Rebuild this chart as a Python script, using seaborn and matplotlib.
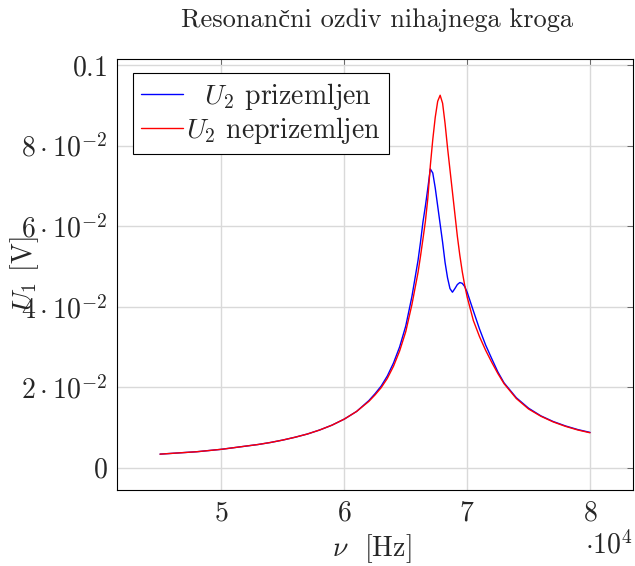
import numpy as np
import pandas as pd
import matplotlib
matplotlib.use("Agg")
import matplotlib.pyplot as plt
import seaborn as sns

# frequency grid [Hz] and measured amplitudes [V]
freq = [45000, 46000, 47000, 48000, 49000, 50000, 51000, 52000, 53000, 54000,
        55000, 56000, 57000, 58000, 59000, 60000, 61000, 62000, 62500, 63000,
        63500, 64000, 64500, 65000, 65500, 66000, 66200, 66400, 66600, 66800,
        67000, 67200, 67400, 67600, 67800, 68000, 68200, 68400, 68600, 68800,
        69000, 69200, 69400, 69600, 69800, 70000, 70500, 71000, 71500, 72000,
        72500, 73000, 74000, 75000, 76000, 77000, 78000, 79000, 80000]

u_prizemljen = [0.0034, 0.0036, 0.0038, 0.0040, 0.0043, 0.0046, 0.0050, 0.0054, 0.0058, 0.0063,
                0.0069, 0.0076, 0.0084, 0.0094, 0.0106, 0.0121, 0.0140, 0.0167, 0.0184, 0.0203,
                0.0228, 0.0260, 0.0300, 0.0352, 0.0425, 0.0515, 0.0560, 0.0610, 0.0650, 0.0695,
                0.0742, 0.0732, 0.0695, 0.0650, 0.0605, 0.0560, 0.0510, 0.0472, 0.0445, 0.0436,
                0.0445, 0.0455, 0.0460, 0.0458, 0.0450, 0.0436, 0.0390, 0.0345, 0.0305, 0.0271,
                0.0238, 0.0211, 0.0174, 0.0148, 0.0129, 0.0115, 0.0104, 0.0095, 0.0088]

u_neprizemljen = [0.0034, 0.0036, 0.0038, 0.0040, 0.0043, 0.0046, 0.0050, 0.0054, 0.0058, 0.0063,
                  0.0069, 0.0076, 0.0084, 0.0094, 0.0106, 0.0121, 0.0140, 0.0165, 0.0181, 0.0199,
                  0.0222, 0.0252, 0.0290, 0.0338, 0.0405, 0.0485, 0.0525, 0.0568, 0.0612, 0.0670,
                  0.0750, 0.0815, 0.0870, 0.0910, 0.0925, 0.0905, 0.0855, 0.0795, 0.0740, 0.0685,
                  0.0630, 0.0575, 0.0528, 0.0487, 0.0453, 0.0424, 0.0366, 0.0326, 0.0292, 0.0262,
                  0.0234, 0.0209, 0.0172, 0.0146, 0.0128, 0.0114, 0.0103, 0.0094, 0.0087]

x_ticks = [50000, 60000, 70000, 80000]
x_ticklabels = ["$5$", "$6$", "$7$", "$8$"]
y_ticks = [0, 0.02, 0.04, 0.06, 0.08, 0.1]
y_ticklabels = ["$0$", r"$2\cdot10^{-2}$", r"$4\cdot10^{-2}$", r"$6\cdot10^{-2}$",
                r"$8\cdot10^{-2}$", "$0.1$"]

sns.set_style("white")
plt.rcParams["font.family"] = ["cmr10", "Liberation Serif", "DejaVu Serif"]
plt.rcParams["mathtext.fontset"] = "cm"
plt.rcParams["axes.unicode_minus"] = False
fs = 20

df = pd.DataFrame({"freq": freq, "u1": u_prizemljen, "u2": u_neprizemljen})

fig = plt.figure(figsize=(6.35, 5.66), dpi=100)
ax = fig.add_axes([0.1843, 0.1343, 0.8126, 0.7615])

# legend entries are centred in pgfplots, so the shorter one gets a little lead space
sns.lineplot(data=df, x="freq", y="u1", color="blue", lw=1,
             label=r"$\enspace\;U_2$ prizemljen", ax=ax)
sns.lineplot(data=df, x="freq", y="u2", color="red", lw=1,
             label=r"$U_2$ neprizemljen", ax=ax)

ax.set_xlim(41500, 83500)
ax.set_ylim(-0.0055, 0.1015)
ax.set_xticks(x_ticks)
ax.set_xticklabels(x_ticklabels, fontsize=fs)
ax.set_yticks(y_ticks)
ax.set_yticklabels(y_ticklabels, fontsize=fs)
ax.set_xlabel("")
ax.set_ylabel("")
ax.grid(True, color="#d9d9d9", lw=1)
ax.tick_params(direction="in", length=4, width=0.6, color="#555555",
               top=True, right=True, pad=7)
for s in ax.spines.values():
    s.set_color("black")
    s.set_linewidth(0.8)

leg = ax.legend(loc="upper left", bbox_to_anchor=(0.031, 0.968), borderaxespad=0,
                fancybox=False, edgecolor="black", framealpha=1, fontsize=fs,
                handlelength=1.5, handletextpad=0.1, borderpad=0.3, labelspacing=0.1)
leg.get_frame().set_linewidth(0.8)

fig.text(377 / 635, 1 - 20 / 566, "Resonančni ozdiv nihajnega kroga",
         ha="center", va="center", fontsize=19)
fig.text(372 / 635, 1 - 549 / 566, r"$\nu$  [Hz]", ha="center", va="center", fontsize=fs)
fig.text(633 / 635, 1 - 545 / 566, r"$\cdot10^{4}$", ha="right", va="center", fontsize=fs)
fig.text(25 / 635, 1 - 274 / 566, r"$U_1$ [V]", ha="center", va="center",
         rotation=90, fontsize=fs)

fig.savefig("out.png", dpi=100)
